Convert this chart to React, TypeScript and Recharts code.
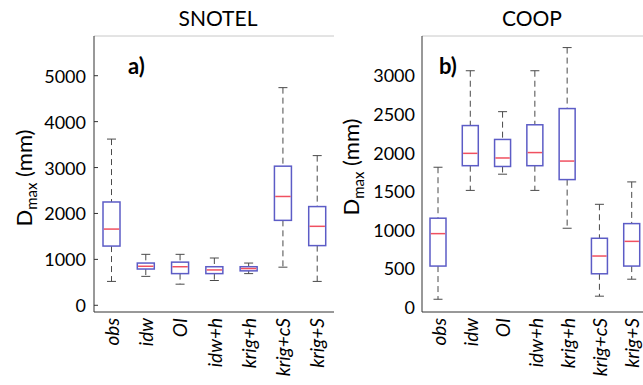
import { Bar, ComposedChart, ReferenceLine, XAxis, YAxis } from 'recharts';

const METHODS = ['obs', 'idw', 'OI', 'idw+h', 'krig+h', 'krig+cS', 'krig+S'];

// SNOTEL box stats (mm)
const SNOTEL_MIN = [520, 630, 460, 540, 690, 830, 520];
const SNOTEL_Q1 = [1290, 790, 690, 690, 750, 1850, 1300];
const SNOTEL_MED = [1660, 850, 840, 770, 800, 2370, 1720];
const SNOTEL_Q3 = [2250, 920, 940, 840, 840, 3030, 2150];
const SNOTEL_MAX = [3620, 1110, 1110, 1030, 920, 4740, 3260];
const SNOTEL_TICKS = [0, 1000, 2000, 3000, 4000, 5000];

// COOP box stats (mm)
const COOP_MIN = [100, 1510, 1720, 1510, 1020, 140, 360];
const COOP_Q1 = [530, 1830, 1820, 1830, 1650, 430, 530];
const COOP_MED = [950, 1990, 1930, 2000, 1890, 660, 850];
const COOP_Q3 = [1150, 2350, 2170, 2360, 2570, 890, 1080];
const COOP_MAX = [1810, 3060, 2530, 3060, 3360, 1330, 1620];
const COOP_TICKS = [0, 500, 1000, 1500, 2000, 2500, 3000];

const FONT = 'Lato, "Open Sans", sans-serif';
const AXIS = '#333';
const BOX = '#5c5cc6';
const MEDIAN = '#f05060';
const WHISKER = '#4a4a4a';

interface Row {
  name: string;
  min: number;
  q1: number;
  med: number;
  q3: number;
  max: number;
}

const build = (mn: number[], q1: number[], med: number[], q3: number[], mx: number[]): Row[] =>
  METHODS.map((name, i) => ({ name, min: mn[i], q1: q1[i], med: med[i], q3: q3[i], max: mx[i] }));

const snotel = build(SNOTEL_MIN, SNOTEL_Q1, SNOTEL_MED, SNOTEL_Q3, SNOTEL_MAX);
const coop = build(COOP_MIN, COOP_Q1, COOP_MED, COOP_Q3, COOP_MAX);

// bar spans [min, max]; inner stats are placed on the same linear scale
const BoxShape = (props: any) => {
  const { x, y, width, height, payload } = props;
  if (!payload) return null;
  const top = Math.min(y, y + height);
  const h = Math.abs(height);
  const span = payload.max - payload.min || 1;
  const py = (v: number) => top + ((payload.max - v) / span) * h;
  const cx = x + width / 2;
  const cap = 4.5;
  return (
    <g>
      <line x1={cx} x2={cx} y1={py(payload.max)} y2={py(payload.q3)} stroke={WHISKER} strokeDasharray="6 4" />
      <line x1={cx} x2={cx} y1={py(payload.q1)} y2={py(payload.min)} stroke={WHISKER} strokeDasharray="6 4" />
      <line x1={cx - cap} x2={cx + cap} y1={py(payload.max)} y2={py(payload.max)} stroke={WHISKER} />
      <line x1={cx - cap} x2={cx + cap} y1={py(payload.min)} y2={py(payload.min)} stroke={WHISKER} />
      <rect
        x={x}
        y={py(payload.q3)}
        width={width}
        height={py(payload.q1) - py(payload.q3)}
        fill="#fff"
        stroke={BOX}
        strokeWidth={1.5}
      />
      <line x1={x + 0.8} x2={x + width - 0.8} y1={py(payload.med)} y2={py(payload.med)} stroke={MEDIAN} strokeWidth={1.5} />
    </g>
  );
};

const LeftTick = ({ x, y, payload, inward }: any) => (
  <g>
    <text x={x} y={y} textAnchor="end" dominantBaseline="central" fontSize={18} fontFamily={FONT} fill="#000">
      {payload.value}
    </text>
    {inward && <line x1={x + 8} x2={x + 12} y1={y} y2={y} stroke={AXIS} />}
  </g>
);

const RightTick = ({ x, y }: any) => <line x1={x - 4} x2={x} y1={y} y2={y} stroke={AXIS} />;

const MethodTick = ({ x, y, payload }: any) => (
  <text
    x={x}
    y={y}
    transform={`rotate(-90 ${x} ${y})`}
    textAnchor="end"
    dominantBaseline="central"
    fontSize={19}
    fontStyle="italic"
    fontFamily={FONT}
    fill="#000"
  >
    {payload.value}
  </text>
);

const yLabel = (dx: number, dy: number) => (props: any) => {
  const vb = props.viewBox || {};
  const cx = vb.x + dx;
  const cy = vb.y + vb.height / 2 + dy;
  return (
    <text
      x={cx}
      y={cy}
      transform={`rotate(-90 ${cx} ${cy})`}
      textAnchor="middle"
      fontSize={22}
      fontFamily={FONT}
      fill="#000"
    >
      D<tspan fontSize={15} dy={5}>max</tspan>
      <tspan dy={-5}> (mm)</tspan>
    </text>
  );
};

export default function App() {
  return (
    <div style={{ position: 'absolute', left: 0, top: 0, width: 643, height: 385, overflow: 'hidden', background: '#fff' }}>
      <div style={{ position: 'absolute', left: 0, top: 0 }}>
        <ComposedChart width={336} height={385} data={snotel} margin={{ top: 36, right: 2, bottom: 0, left: 0 }}>
          <XAxis
            dataKey="name"
            height={73}
            interval={0}
            tickSize={0}
            tickMargin={6}
            tick={<MethodTick />}
            axisLine={{ stroke: AXIS }}
          />
          <YAxis
            width={94}
            domain={[-146, 5865]}
            ticks={SNOTEL_TICKS}
            allowDataOverflow
            tickSize={0}
            tickMargin={8}
            tickLine={false}
            tick={<LeftTick inward />}
            axisLine={{ stroke: AXIS }}
            label={yLabel(32, 4)}
          />
          <YAxis
            yAxisId="r"
            orientation="right"
            width={0}
            domain={[-146, 5865]}
            ticks={SNOTEL_TICKS}
            allowDataOverflow
            tickSize={0}
            tickMargin={0}
            tickLine={false}
            tick={<RightTick />}
            axisLine={{ stroke: AXIS }}
          />
          <ReferenceLine y={5865} stroke="#c8c8c8" />
          <Bar dataKey={(d: Row) => [d.min, d.max]} barSize={17} shape={BoxShape} isAnimationActive={false} />
        </ComposedChart>
      </div>
      <div style={{ position: 'absolute', left: 322, top: 0 }}>
        <ComposedChart width={326} height={385} data={coop} margin={{ top: 36, right: 0, bottom: 0, left: 0 }}>
          <XAxis
            dataKey="name"
            height={73}
            interval={0}
            tickSize={0}
            tickMargin={6}
            tick={<MethodTick />}
            axisLine={{ stroke: AXIS }}
          />
          <YAxis
            width={100}
            domain={[-65, 3510]}
            ticks={COOP_TICKS}
            allowDataOverflow
            tickSize={0}
            tickMargin={7}
            tickLine={false}
            tick={<LeftTick />}
            axisLine={{ stroke: AXIS }}
            label={yLabel(37, -7)}
          />
          <ReferenceLine y={3510} stroke="#c8c8c8" />
          <Bar dataKey={(d: Row) => [d.min, d.max]} barSize={16} shape={BoxShape} isAnimationActive={false} />
        </ComposedChart>
      </div>
      <svg width={643} height={385} style={{ position: 'absolute', left: 0, top: 0, pointerEvents: 'none' }}>
        <text x={218} y={26} textAnchor="middle" fontSize={21} fontFamily={FONT} fill="#000">SNOTEL</text>
        <text x={532} y={26} textAnchor="middle" fontSize={21} fontFamily={FONT} fill="#000">COOP</text>
        <text x={128} y={74} fontSize={22} fontWeight="bold" fontFamily={FONT} fill="#000">a)</text>
        <text x={439} y={74} fontSize={22} fontWeight="bold" fontFamily={FONT} fill="#000">b)</text>
      </svg>
    </div>
  );
}
